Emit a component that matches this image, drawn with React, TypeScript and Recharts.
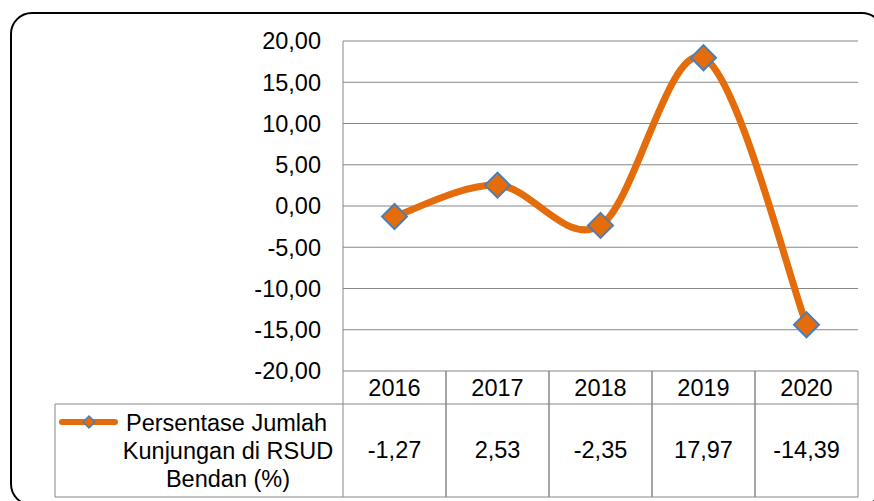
import React from 'react';
import { LineChart, Line, XAxis, YAxis, CartesianGrid } from 'recharts';

const years = ['2016', '2017', '2018', '2019', '2020'];
const values = [-1.27, 2.53, -2.35, 17.97, -14.39];
const yTicks = [-20, -15, -10, -5, 0, 5, 10, 15, 20];
const seriesName = 'Persentase Jumlah Kunjungan di RSUD Bendan (%)';
const legendLines = ['Persentase Jumlah', 'Kunjungan di RSUD', 'Bendan (%)'];

const data = years.map((y, i) => ({ year: y, value: values[i] }));

const FONT = '"Liberation Sans", Arial, sans-serif';
const FS = 23.5;
const GRID = '#878787';
const ORANGE = '#E46C0A';
const BLUE = '#4A7EBB';

const fmt = (v: number) => v.toFixed(2).replace('.', ',');

// Excel-like smoothed line (Catmull-Rom style Bezier)
function excelSmooth(context: any) {
  let pts: number[][] = [];
  return {
    areaStart() {},
    areaEnd() {},
    lineStart() {
      pts = [];
    },
    point(x: number, y: number) {
      pts.push([+x, +y]);
    },
    lineEnd() {
      if (!pts.length) return;
      context.moveTo(pts[0][0], pts[0][1]);
      for (let i = 0; i < pts.length - 1; i++) {
        const p0 = pts[i - 1] || pts[i];
        const p1 = pts[i];
        const p2 = pts[i + 1];
        const p3 = pts[i + 2] || p2;
        context.bezierCurveTo(
          p1[0] + (p2[0] - p0[0]) / 6,
          p1[1] + (p2[1] - p0[1]) / 6,
          p2[0] - (p3[0] - p1[0]) / 6,
          p2[1] - (p3[1] - p1[1]) / 6,
          p2[0],
          p2[1]
        );
      }
    },
  };
}

const Diamond = (props: any) => {
  const { cx, cy, index } = props;
  if (cx == null || cy == null) return <g key={`d${index}`} />;
  const r = 12.5;
  return (
    <polygon
      key={`d${index}`}
      points={`${cx},${cy - r} ${cx + r},${cy} ${cx},${cy + r} ${cx - r},${cy}`}
      fill={ORANGE}
      stroke={BLUE}
      strokeWidth={2}
    />
  );
};

const TableTick = (props: any) => {
  const { x, y, payload, index, width, visibleTicksCount } = props;
  const cw = width && visibleTicksCount ? width / visibleTicksCount : 103;
  const l = x - cw / 2;
  const r = x + cw / 2;
  const top = y;
  const mid = y + 33;
  const bot = y + 126;
  const val = values[index];
  return (
    <g>
      <line x1={l} y1={top} x2={l} y2={bot} stroke={GRID} strokeWidth={1} />
      <line x1={r} y1={top} x2={r} y2={bot} stroke={GRID} strokeWidth={1} />
      <line x1={l} y1={mid} x2={r} y2={mid} stroke={GRID} strokeWidth={1} />
      <line x1={l} y1={bot} x2={r} y2={bot} stroke={GRID} strokeWidth={1} />
      <text x={x} y={top + 25} textAnchor="middle" fontFamily={FONT} fontSize={FS} fill="#000">
        {payload.value}
      </text>
      <text x={x} y={top + 87} textAnchor="middle" fontFamily={FONT} fontSize={FS} fill="#000">
        {val != null ? fmt(val) : ''}
      </text>
      {index === 0 && (
        <g>
          <line x1={55} y1={mid} x2={l} y2={mid} stroke={GRID} strokeWidth={1} />
          <line x1={55} y1={bot} x2={l} y2={bot} stroke={GRID} strokeWidth={1} />
          <line x1={55} y1={mid} x2={55} y2={bot} stroke={GRID} strokeWidth={1} />
          <line x1={62} y1={mid + 18} x2={115} y2={mid + 18} stroke={ORANGE} strokeWidth={6} strokeLinecap="round" />
          <polygon
            points={`89,${mid + 12} 95,${mid + 18} 89,${mid + 24} 83,${mid + 18}`}
            fill={ORANGE}
            stroke={BLUE}
            strokeWidth={1.5}
          />
          <text x={126} y={mid + 27} fontFamily={FONT} fontSize={FS} fill="#000">
            {legendLines[0]}
          </text>
          <text x={228} y={mid + 55} textAnchor="middle" fontFamily={FONT} fontSize={FS} fill="#000">
            {legendLines[1]}
          </text>
          <text x={228} y={mid + 83} textAnchor="middle" fontFamily={FONT} fontSize={FS} fill="#000">
            {legendLines[2]}
          </text>
        </g>
      )}
    </g>
  );
};

export default function App() {
  return (
    <div
      style={{
        position: 'absolute',
        left: 0,
        top: 0,
        width: 874,
        height: 501,
        overflow: 'hidden',
        background: '#fff',
      }}
    >
      <div
        style={{
          position: 'absolute',
          left: 10,
          top: 12,
          width: 874,
          height: 494,
          border: '2px solid #000',
          borderRadius: 22,
          boxSizing: 'border-box',
        }}
      />
      <LineChart
        width={874}
        height={501}
        data={data}
        margin={{ top: 41, right: 16, bottom: 4, left: 263 }}
      >
        <CartesianGrid horizontal vertical={false} stroke={GRID} strokeWidth={1} />
        <XAxis
          dataKey="year"
          height={126}
          padding={{ left: 51.5, right: 51.5 }}
          axisLine={false}
          tickLine={false}
          tickSize={0}
          tickMargin={0}
          interval={0}
          tick={<TableTick />}
        />
        <YAxis
          width={80}
          domain={[-20, 20]}
          ticks={yTicks}
          interval={0}
          axisLine={{ stroke: GRID, strokeWidth: 1 }}
          tickLine={false}
          tickSize={0}
          tickMargin={22}
          tickFormatter={fmt}
          tick={{ fill: '#000', fontFamily: FONT, fontSize: FS }}
        />
        <Line
          name={seriesName}
          dataKey="value"
          type={excelSmooth as any}
          stroke={ORANGE}
          strokeWidth={7}
          strokeLinecap="round"
          dot={(p: any) => <Diamond key={`dot${p.index}`} {...p} />}
          activeDot={false}
          isAnimationActive={false}
        />
      </LineChart>
    </div>
  );
}
